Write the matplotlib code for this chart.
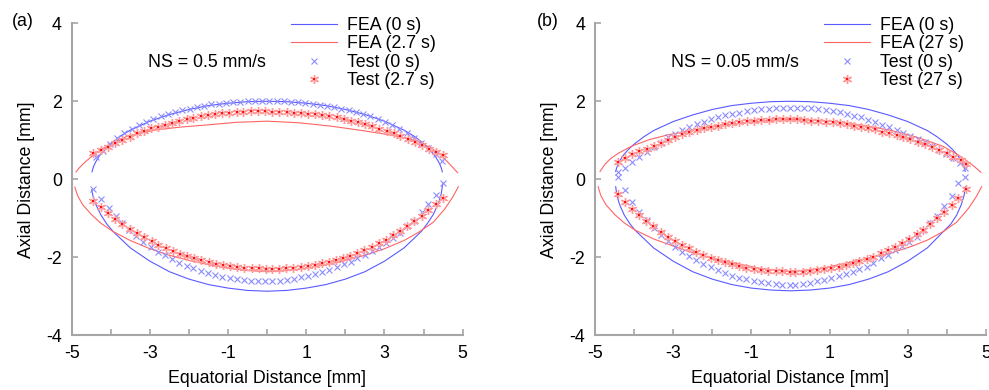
import matplotlib
matplotlib.use('Agg')
import matplotlib.pyplot as plt
from matplotlib.lines import Line2D
from matplotlib.ticker import FixedLocator

plt.rcParams['font.family'] = ['Liberation Sans', 'DejaVu Sans']
plt.rcParams['axes.unicode_minus'] = False

# ---------------- panel (a): NS = 0.5 mm/s ----------------
A_FEA0_TOP_X = [-4.48, -4.45, -4.40, -4.30, -4.15, -4.00, -3.75, -3.50, -3.00, -2.50, -2.00, -1.50, -1.00, -0.50, 0.00,
                0.50, 1.00, 1.50, 2.00, 2.50, 3.00, 3.50, 3.75, 4.00, 4.15, 4.30, 4.40, 4.45, 4.48]
A_FEA0_TOP_Y = [0.19, 0.30, 0.42, 0.59, 0.77, 0.92, 1.11, 1.26, 1.49, 1.66, 1.79, 1.89, 1.95, 1.99, 2.00,
                1.99, 1.95, 1.89, 1.79, 1.66, 1.49, 1.26, 1.11, 0.92, 0.77, 0.59, 0.42, 0.30, 0.19]
A_FEA0_BOT_X = [-4.49, -4.45, -4.38, -4.25, -4.10, -3.94, -3.50, -3.00, -2.50, -2.00, -1.50, -1.00, -0.50, 0.00,
                0.50, 1.00, 1.50, 2.00, 2.50, 3.00, 3.50, 3.94, 4.10, 4.25, 4.38, 4.45, 4.49]
A_FEA0_BOT_Y = [-0.27, -0.45, -0.65, -0.92, -1.15, -1.34, -1.76, -2.10, -2.37, -2.56, -2.70, -2.79, -2.85, -2.87,
                -2.85, -2.79, -2.70, -2.56, -2.37, -2.10, -1.76, -1.34, -1.13, -0.90, -0.62, -0.38, -0.12]
A_FEA1_TOP_X = [-4.89, -4.80, -4.66, -4.45, -4.19, -3.94, -3.59, -3.20, -2.74, -2.20, -1.46, -0.80, 0.00,
                0.80, 1.65, 2.50, 3.00, 3.61, 3.90, 4.20, 4.45, 4.62, 4.75, 4.87]
A_FEA1_TOP_Y = [0.19, 0.30, 0.44, 0.62, 0.80, 0.94, 1.10, 1.20, 1.28, 1.34, 1.40, 1.46, 1.49,
                1.45, 1.36, 1.24, 1.16, 1.05, 0.95, 0.80, 0.62, 0.44, 0.30, 0.17]
A_FEA1_BOT_X = [-4.92, -4.85, -4.72, -4.50, -4.25, -3.94, -3.50, -3.00, -2.50, -2.00, -1.50, -1.00, -0.50, 0.00,
                0.50, 1.00, 1.50, 2.00, 2.50, 3.00, 3.50, 3.87, 4.25, 4.55, 4.75, 4.89]
A_FEA1_BOT_Y = [-0.20, -0.42, -0.65, -0.90, -1.13, -1.34, -1.57, -1.78, -1.95, -2.08, -2.19, -2.28, -2.34, -2.37,
                -2.34, -2.28, -2.19, -2.08, -1.95, -1.78, -1.57, -1.36, -1.10, -0.75, -0.45, -0.19]

A_TEST0_TOP_X = [-4.39, -4.20, -4.02, -3.83, -3.65, -3.46, -3.28, -3.09, -2.91, -2.72, -2.54, -2.35, -2.17, -1.98,
                 -1.80, -1.61, -1.43, -1.24, -1.06, -0.87, -0.69, -0.50, -0.32, -0.13, 0.05, 0.24, 0.42, 0.61,
                 0.79, 0.98, 1.16, 1.35, 1.53, 1.72, 1.90, 2.09, 2.27, 2.46, 2.64, 2.83, 3.01, 3.20, 3.38, 3.57,
                 3.75, 3.94, 4.12, 4.31, 4.46]
A_TEST0_TOP_Y = [0.57, 0.73, 0.90, 1.05, 1.18, 1.29, 1.39, 1.48, 1.55, 1.61, 1.67, 1.72, 1.77, 1.81,
                 1.85, 1.89, 1.92, 1.94, 1.96, 1.98, 1.99, 2.00, 2.01, 2.01, 2.01, 2.01, 2.00, 1.99,
                 1.98, 1.96, 1.94, 1.91, 1.88, 1.85, 1.81, 1.77, 1.72, 1.67, 1.61, 1.54, 1.47, 1.39, 1.30, 1.19,
                 1.06, 0.93, 0.80, 0.64, 0.48]
A_TEST0_BOT_X = [-4.45, -4.26, -4.05, -3.87, -3.71, -3.53, -3.36, -3.17, -2.98, -2.80, -2.61, -2.43, -2.25, -2.06,
                 -1.89, -1.70, -1.52, -1.33, -1.15, -0.96, -0.78, -0.60, -0.41, -0.23, -0.05, 0.13, 0.32, 0.50,
                 0.69, 0.86, 1.05, 1.22, 1.41, 1.59, 1.78, 1.96, 2.14, 2.31, 2.50, 2.67, 2.86, 3.03, 3.23, 3.40,
                 3.58, 3.76, 3.95, 4.12, 4.31, 4.49]
A_TEST0_BOT_Y = [-0.25, -0.51, -0.74, -0.94, -1.13, -1.30, -1.45, -1.60, -1.74, -1.86, -1.95, -2.05, -2.14, -2.22,
                 -2.28, -2.35, -2.41, -2.46, -2.50, -2.53, -2.56, -2.59, -2.60, -2.62, -2.62, -2.62, -2.60, -2.58,
                 -2.55, -2.51, -2.48, -2.44, -2.38, -2.33, -2.26, -2.18, -2.11, -2.03, -1.93, -1.84, -1.74, -1.63,
                 -1.51, -1.37, -1.21, -1.06, -0.83, -0.63, -0.40, -0.10]
A_TEST1_TOP_X = [-4.45, -4.26, -4.06, -3.88, -3.71, -3.51, -3.34, -3.15, -2.97, -2.79, -2.61, -2.43, -2.25, -2.06,
                 -1.89, -1.70, -1.52, -1.34, -1.15, -0.97, -0.78, -0.61, -0.42, -0.24, -0.06, 0.13, 0.31, 0.50,
                 0.69, 0.86, 1.05, 1.22, 1.41, 1.59, 1.78, 1.96, 2.14, 2.33, 2.50, 2.69, 2.87, 3.06, 3.24, 3.41,
                 3.59, 3.78, 3.95, 4.14, 4.32, 4.50]
A_TEST1_TOP_Y = [0.68, 0.75, 0.84, 0.94, 1.01, 1.09, 1.18, 1.25, 1.31, 1.35, 1.40, 1.44, 1.49, 1.54,
                 1.57, 1.61, 1.64, 1.67, 1.69, 1.71, 1.73, 1.73, 1.74, 1.75, 1.75, 1.73, 1.73, 1.72,
                 1.71, 1.69, 1.67, 1.67, 1.64, 1.62, 1.59, 1.55, 1.50, 1.46, 1.41, 1.37, 1.30, 1.25, 1.18, 1.11,
                 1.04, 0.96, 0.87, 0.77, 0.69, 0.62]
A_TEST1_BOT_X = [-4.45, -4.26, -4.06, -3.89, -3.71, -3.52, -3.34, -3.14, -2.95, -2.78, -2.59, -2.40, -2.23, -2.06,
                 -1.86, -1.68, -1.49, -1.32, -1.13, -0.95, -0.76, -0.59, -0.39, -0.20, -0.03, 0.12, 0.30, 0.49,
                 0.67, 0.86, 1.04, 1.22, 1.39, 1.58, 1.76, 1.95, 2.13, 2.31, 2.48, 2.67, 2.86, 3.03, 3.23, 3.40,
                 3.58, 3.76, 3.95, 4.12, 4.31, 4.49]
A_TEST1_BOT_Y = [-0.56, -0.72, -0.87, -1.03, -1.15, -1.28, -1.39, -1.49, -1.58, -1.68, -1.77, -1.84, -1.91, -1.97,
                 -2.03, -2.08, -2.12, -2.17, -2.20, -2.22, -2.26, -2.28, -2.28, -2.28, -2.29, -2.30, -2.30, -2.28,
                 -2.27, -2.25, -2.22, -2.19, -2.15, -2.11, -2.07, -2.01, -1.96, -1.88, -1.81, -1.74, -1.64, -1.56,
                 -1.43, -1.33, -1.21, -1.07, -0.94, -0.80, -0.64, -0.47]

# ---------------- panel (b): NS = 0.05 mm/s ----------------
B_FEA0_TOP_X = [-4.47, -4.44, -4.38, -4.28, -4.15, -4.00, -3.75, -3.50, -3.00, -2.50, -2.00, -1.50, -1.00, -0.50, 0.00,
                0.50, 1.00, 1.50, 2.00, 2.50, 3.00, 3.50, 3.75, 4.00, 4.15, 4.28, 4.38, 4.44, 4.47]
B_FEA0_TOP_Y = [0.20, 0.31, 0.45, 0.61, 0.76, 0.90, 1.09, 1.25, 1.48, 1.65, 1.79, 1.89, 1.95, 1.99, 2.00,
                1.99, 1.95, 1.89, 1.79, 1.65, 1.48, 1.25, 1.09, 0.90, 0.76, 0.61, 0.45, 0.31, 0.20]
B_FEA0_BOT_X = [-4.47, -4.44, -4.37, -4.25, -4.10, -3.98, -3.50, -3.00, -2.50, -2.00, -1.50, -1.00, -0.50, 0.00,
                0.50, 1.00, 1.50, 2.00, 2.50, 3.00, 3.50, 3.91, 4.10, 4.25, 4.37, 4.44, 4.47]
B_FEA0_BOT_Y = [-0.19, -0.42, -0.65, -0.92, -1.15, -1.30, -1.76, -2.10, -2.37, -2.56, -2.70, -2.79, -2.84, -2.86,
                -2.84, -2.79, -2.70, -2.56, -2.37, -2.10, -1.76, -1.34, -1.15, -0.92, -0.65, -0.42, -0.19]
B_FEA1_TOP_X = [-4.87, -4.75, -4.60, -4.40, -4.06, -3.60, -3.13, -2.50, -1.85, -1.20, -0.50, 0.00,
                0.50, 1.20, 1.90, 2.54, 3.10, 3.50, 3.91, 4.25, 4.50, 4.70, 4.87]
B_FEA1_TOP_Y = [0.20, 0.38, 0.53, 0.67, 0.85, 1.02, 1.14, 1.26, 1.37, 1.45, 1.51, 1.53,
                1.52, 1.47, 1.38, 1.26, 1.12, 0.99, 0.84, 0.65, 0.48, 0.33, 0.18]
B_FEA1_BOT_X = [-4.92, -4.85, -4.72, -4.50, -4.25, -3.98, -3.50, -2.70, -2.00, -1.42, -0.80, 0.00,
                0.80, 1.42, 2.00, 2.54, 3.10, 3.50, 3.91, 4.25, 4.55, 4.75, 4.89]
B_FEA1_BOT_Y = [-0.19, -0.42, -0.65, -0.90, -1.12, -1.30, -1.53, -1.82, -2.02, -2.15, -2.28, -2.37,
                -2.28, -2.15, -2.02, -1.90, -1.72, -1.56, -1.34, -1.10, -0.75, -0.45, -0.19]

B_TEST0_TOP_X = [-4.42, -4.23, -4.05, -3.87, -3.68, -3.49, -3.31, -3.13, -2.96, -2.77, -2.59, -2.40, -2.21, -2.03,
                 -1.85, -1.67, -1.49, -1.31, -1.12, -0.93, -0.75, -0.56, -0.37, -0.19, 0.00, 0.17, 0.35, 0.53,
                 0.71, 0.90, 1.08, 1.27, 1.44, 1.62, 1.80, 1.99, 2.16, 2.35, 2.53, 2.72, 2.89, 3.07, 3.25, 3.44,
                 3.63, 3.81, 3.98, 4.16, 4.33, 4.46]
B_TEST0_TOP_Y = [0.18, 0.28, 0.45, 0.58, 0.71, 0.84, 0.94, 1.08, 1.17, 1.26, 1.35, 1.41, 1.48, 1.54,
                 1.59, 1.64, 1.67, 1.71, 1.74, 1.78, 1.80, 1.81, 1.82, 1.82, 1.83, 1.83, 1.83, 1.82,
                 1.80, 1.78, 1.75, 1.72, 1.67, 1.63, 1.59, 1.52, 1.46, 1.39, 1.33, 1.26, 1.19, 1.12, 1.03, 0.95,
                 0.86, 0.75, 0.64, 0.54, 0.41, 0.28]
B_TEST0_BOT_X = [-4.42, -4.23, -4.05, -3.87, -3.68, -3.49, -3.31, -3.14, -2.95, -2.78, -2.60, -2.42, -2.23, -2.04,
                 -1.86, -1.67, -1.50, -1.31, -1.13, -0.94, -0.75, -0.57, -0.38, -0.21, -0.02, 0.12, 0.31, 0.49,
                 0.68, 0.86, 1.04, 1.23, 1.42, 1.59, 1.76, 1.95, 2.12, 2.31, 2.49, 2.67, 2.86, 3.04, 3.23, 3.40,
                 3.57, 3.76, 3.93, 4.12, 4.29, 4.46]
B_TEST0_BOT_Y = [0.07, -0.27, -0.57, -0.83, -1.04, -1.26, -1.43, -1.57, -1.74, -1.86, -1.97, -2.07, -2.17, -2.26,
                 -2.33, -2.41, -2.47, -2.52, -2.56, -2.61, -2.64, -2.67, -2.69, -2.71, -2.72, -2.72, -2.68, -2.65,
                 -2.61, -2.57, -2.53, -2.48, -2.44, -2.37, -2.31, -2.24, -2.15, -2.03, -1.94, -1.81, -1.71, -1.60,
                 -1.47, -1.30, -1.13, -0.94, -0.68, -0.43, -0.10, 0.07]
B_TEST1_TOP_X = [-4.42, -4.23, -4.05, -3.87, -3.68, -3.49, -3.31, -3.13, -2.96, -2.77, -2.59, -2.40, -2.21, -2.03,
                 -1.85, -1.67, -1.49, -1.31, -1.12, -0.93, -0.75, -0.56, -0.37, -0.19, 0.00, 0.17, 0.35, 0.53,
                 0.71, 0.90, 1.08, 1.27, 1.44, 1.62, 1.80, 1.99, 2.16, 2.35, 2.53, 2.72, 2.89, 3.07, 3.25, 3.44,
                 3.63, 3.81, 4.00, 4.16, 4.35, 4.50]
B_TEST1_TOP_Y = [0.45, 0.55, 0.65, 0.73, 0.78, 0.85, 0.92, 1.01, 1.09, 1.15, 1.20, 1.26, 1.31, 1.35,
                 1.37, 1.41, 1.44, 1.46, 1.49, 1.50, 1.52, 1.53, 1.54, 1.54, 1.55, 1.54, 1.52, 1.50,
                 1.49, 1.48, 1.46, 1.44, 1.41, 1.37, 1.35, 1.32, 1.28, 1.22, 1.18, 1.14, 1.09, 1.03, 0.96, 0.90,
                 0.84, 0.75, 0.67, 0.58, 0.49, 0.40]
B_TEST1_BOT_X = [-4.42, -4.23, -4.05, -3.87, -3.70, -3.51, -3.32, -3.14, -2.95, -2.78, -2.60, -2.42, -2.23, -2.04,
                 -1.86, -1.67, -1.50, -1.31, -1.13, -0.94, -0.75, -0.57, -0.38, -0.21, -0.02, 0.12, 0.31, 0.49,
                 0.68, 0.86, 1.04, 1.23, 1.42, 1.59, 1.76, 1.95, 2.12, 2.31, 2.49, 2.67, 2.86, 3.04, 3.23, 3.40,
                 3.57, 3.76, 3.93, 4.12, 4.29, 4.48]
B_TEST1_BOT_Y = [-0.38, -0.57, -0.76, -0.92, -1.06, -1.21, -1.36, -1.47, -1.58, -1.68, -1.77, -1.86, -1.94, -2.01,
                 -2.07, -2.13, -2.18, -2.22, -2.27, -2.30, -2.33, -2.34, -2.35, -2.36, -2.37, -2.37, -2.37, -2.35,
                 -2.33, -2.31, -2.28, -2.24, -2.21, -2.15, -2.10, -2.05, -1.98, -1.90, -1.81, -1.73, -1.63, -1.52,
                 -1.40, -1.30, -1.15, -1.00, -0.85, -0.66, -0.49, -0.26]

X_TICKS = [-5, -3, -1, 1, 3, 5]
X_MINOR = [-4, -2, 0, 2, 4]
Y_TICKS = [-4, -2, 0, 2, 4]

BLUE_LINE = '#5a5aff'
RED_LINE = '#ff6464'
BLUE_MARK = '#8c8cff'
RED_MARK = '#ff9a9a'
RED_CORE = '#ff1010'
AXIS_GRAY = '#a6a6a6'
FS = 12.8


def draw_panel(ax, fea0, fea1, test0, test1, labels, ns_text, legend_x):
    for xs, ys in fea0:
        ax.plot(xs, ys, color=BLUE_LINE, lw=0.8)
    for xs, ys in fea1:
        ax.plot(xs, ys, color=RED_LINE, lw=0.8)
    for xs, ys in test0:
        ax.plot(xs, ys, ls='none', marker='x', ms=5, mew=0.8, color=BLUE_MARK)
    for xs, ys in test1:
        ax.plot(xs, ys, ls='none', marker=(6, 2, 0), ms=6.5, mew=1.0, color=RED_MARK)
        ax.plot(xs, ys, ls='none', marker='s', ms=1.6, mew=0, color=RED_CORE)

    ax.set_xlim(-5, 5)
    ax.set_ylim(-4, 4)
    ax.set_xticks(X_TICKS)
    ax.xaxis.set_minor_locator(FixedLocator(X_MINOR))
    ax.set_yticks(Y_TICKS)
    ax.tick_params(axis='both', which='both', direction='in', length=4, width=1.2,
                   color=AXIS_GRAY, labelsize=FS, labelcolor='black', pad=7)
    for side in ['top', 'right']:
        ax.spines[side].set_visible(False)
    for side in ['left', 'bottom']:
        ax.spines[side].set_color(AXIS_GRAY)
        ax.spines[side].set_linewidth(1.5)
    ax.set_xlabel('Equatorial Distance [mm]', fontsize=FS, labelpad=5.5)
    ax.set_ylabel('Axial Distance [mm]', fontsize=FS, labelpad=8)
    ax.text(-3.05, 3.0, ns_text, fontsize=FS, va='center', ha='left')

    h_fea0 = Line2D([], [], color=BLUE_LINE, lw=0.8)
    h_fea1 = Line2D([], [], color=RED_LINE, lw=0.8)
    h_test0 = Line2D([], [], ls='none', marker='x', ms=5, mew=0.8, color=BLUE_MARK)
    h_star = Line2D([], [], ls='none', marker=(6, 2, 0), ms=6.5, mew=1.0, color=RED_MARK)
    h_core = Line2D([], [], ls='none', marker='s', ms=1.6, mew=0, color=RED_CORE)
    ax.legend([h_fea0, h_fea1, h_test0, (h_star, h_core)], labels,
              loc='upper left', bbox_to_anchor=(legend_x, 1.02), frameon=False,
              fontsize=FS, handlelength=2.6, handletextpad=0.55, labelspacing=0.08,
              borderpad=0, borderaxespad=0, numpoints=1)


fig = plt.figure(figsize=(9.89, 3.9), dpi=100)
ax_a = fig.add_axes([0.0725, 0.1403, 0.3953, 0.8])
ax_b = fig.add_axes([0.6016, 0.1403, 0.3953, 0.8])

draw_panel(ax_a,
           [(A_FEA0_TOP_X, A_FEA0_TOP_Y), (A_FEA0_BOT_X, A_FEA0_BOT_Y)],
           [(A_FEA1_TOP_X, A_FEA1_TOP_Y), (A_FEA1_BOT_X, A_FEA1_BOT_Y)],
           [(A_TEST0_TOP_X, A_TEST0_TOP_Y), (A_TEST0_BOT_X, A_TEST0_BOT_Y)],
           [(A_TEST1_TOP_X, A_TEST1_TOP_Y), (A_TEST1_BOT_X, A_TEST1_BOT_Y)],
           ['FEA (0 s)', 'FEA (2.7 s)', 'Test (0 s)', 'Test (2.7 s)'],
           'NS = 0.5 mm/s', 0.56)
draw_panel(ax_b,
           [(B_FEA0_TOP_X, B_FEA0_TOP_Y), (B_FEA0_BOT_X, B_FEA0_BOT_Y)],
           [(B_FEA1_TOP_X, B_FEA1_TOP_Y), (B_FEA1_BOT_X, B_FEA1_BOT_Y)],
           [(B_TEST0_TOP_X, B_TEST0_TOP_Y), (B_TEST0_BOT_X, B_TEST0_BOT_Y)],
           [(B_TEST1_TOP_X, B_TEST1_TOP_Y), (B_TEST1_BOT_X, B_TEST1_BOT_Y)],
           ['FEA (0 s)', 'FEA (27 s)', 'Test (0 s)', 'Test (27 s)'],
           'NS = 0.05 mm/s', 0.585)

fig.text(12 / 989, 1 - 22 / 390, '(a)', fontsize=FS, va='center', ha='left')
fig.text(537 / 989, 1 - 22 / 390, '(b)', fontsize=FS, va='center', ha='left')

fig.savefig('out.png', dpi=100)
